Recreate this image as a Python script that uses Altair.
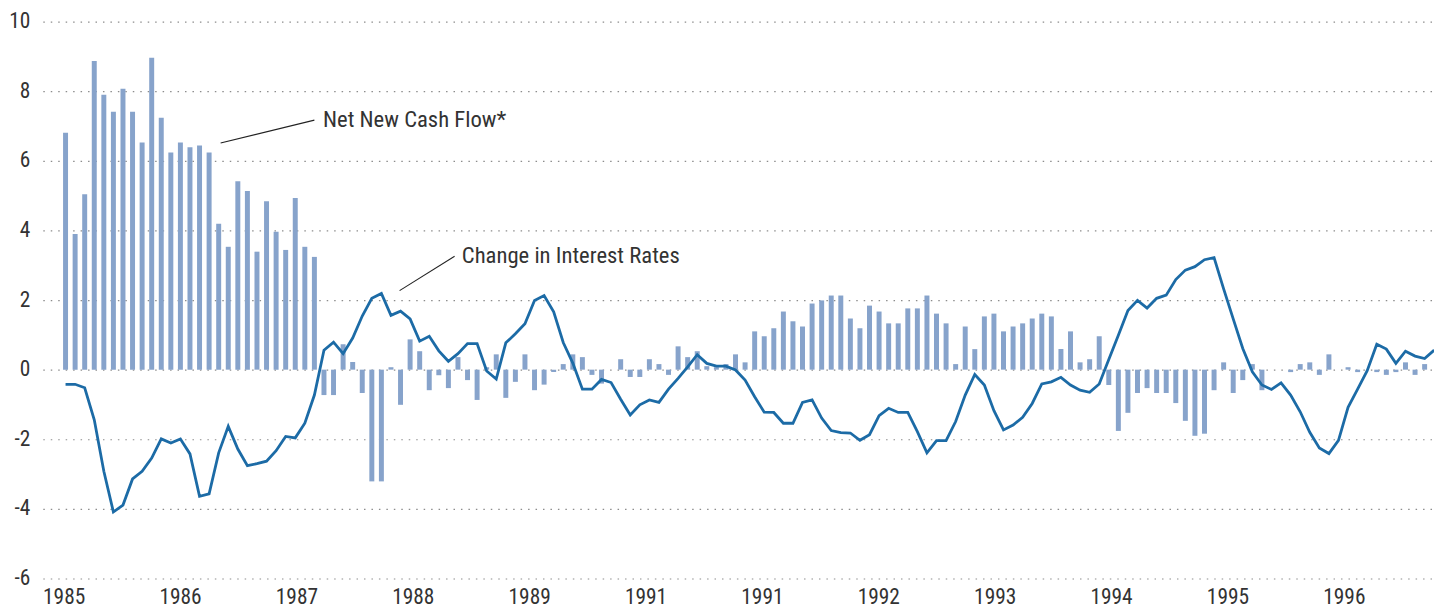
import json
import altair as alt
import pandas as pd

# Monthly net new cash flow (bars), Jan 1985 onward
cash_flow = [
    6.81, 3.90, 5.04, 8.87, 7.90, 7.41, 8.07, 7.41, 6.53, 8.96, 7.24, 6.24,
    6.53, 6.39, 6.44, 6.24, 4.19, 3.53, 5.41, 5.13, 3.39, 4.84, 3.96, 3.44,
    4.93, 3.53, 3.24, -0.73, -0.73, 0.73, 0.22, -0.67, -3.21, -3.21, 0.07, -1.01,
    0.87, 0.53, -0.59, -0.16, -0.53, 0.36, -0.30, -0.87, 0.07, 0.44, -0.81, -0.35,
    0.44, -0.59, -0.43, -0.07, 0.16, 0.44, 0.36, -0.15, -0.40, 0.0, 0.30, -0.21,
    -0.21, 0.30, 0.16, -0.15, 0.67, 0.36, 0.53, 0.10, 0.07, 0.16, 0.44, 0.21,
    1.10, 0.96, 1.19, 1.67, 1.39, 1.24, 1.90, 1.99, 2.13, 2.13, 1.47, 1.19,
    1.84, 1.67, 1.33, 1.33, 1.76, 1.76, 2.13, 1.61, 1.33, 0.16, 1.24, 0.59,
    1.53, 1.61, 1.10, 1.24, 1.33, 1.47, 1.61, 1.53, 0.59, 1.10, 0.21, 0.30,
    0.96, -0.44, -1.76, -1.24, -0.67, -0.53, -0.67, -0.67, -0.96, -1.47, -1.90, -1.84,
    -0.59, 0.21, -0.67, -0.30, 0.16, -0.59, 0.0, 0.0, -0.07, 0.16, 0.21, -0.15,
    0.44, 0.0, 0.07, -0.07, 0.0, -0.07, -0.15, -0.07, 0.21, -0.15, 0.16,
]

# Monthly change in interest rates (line)
rate_change = [
    -0.42, -0.42, -0.52, -1.44, -2.92, -4.09, -3.89, -3.14, -2.92, -2.54, -1.99, -2.11,
    -1.99, -2.42, -3.64, -3.57, -2.39, -1.63, -2.28, -2.76, -2.70, -2.63, -2.33, -1.92,
    -1.96, -1.54, -0.73, 0.56, 0.79, 0.46, 0.91, 1.54, 2.05, 2.19, 1.56, 1.68,
    1.46, 0.82, 0.96, 0.54, 0.24, 0.46, 0.75, 0.75, -0.04, -0.27, 0.77, 1.03,
    1.32, 1.99, 2.13, 1.66, 0.78, 0.19, -0.56, -0.56, -0.28, -0.37, -0.85, -1.30,
    -1.01, -0.87, -0.94, -0.56, -0.25, 0.08, 0.43, 0.18, 0.10, 0.10, -0.01, -0.30,
    -0.78, -1.22, -1.23, -1.54, -1.54, -0.94, -0.87, -1.39, -1.75, -1.81, -1.82, -2.03,
    -1.87, -1.32, -1.11, -1.23, -1.23, -1.78, -2.39, -2.04, -2.04, -1.49, -0.73, -0.14,
    -0.44, -1.18, -1.73, -1.59, -1.37, -0.97, -0.41, -0.35, -0.22, -0.44, -0.59, -0.65,
    -0.41, 0.29, 0.99, 1.70, 1.99, 1.77, 2.05, 2.14, 2.59, 2.86, 2.96, 3.16,
    3.22, 2.32, 1.46, 0.61, -0.06, -0.44, -0.57, -0.38, -0.73, -1.21, -1.80, -2.25,
    -2.41, -2.03, -1.08, -0.56, -0.03, 0.73, 0.59, 0.18, 0.53, 0.39, 0.32, 0.56,
]

year_labels = ["1985", "1986", "1987", "1988", "1989", "1991",
               "1991", "1992", "1993", "1994", "1995", "1996"]
y_ticks = [-6, -4, -2, 0, 2, 4, 6, 8, 10]

# annotation texts and their leader lines (data coordinates)
ann_text = ["Net New Cash Flow*", "Change in Interest Rates"]
ann_x = [26.9, 41.4]
ann_y = [7.17, 3.26]
lead_x1 = [16.2, 34.9]
lead_y1 = [6.51, 2.27]
lead_x2 = [26.0, 40.65]
lead_y2 = [7.17, 3.26]

FONT = "Liberation Sans Narrow, Roboto Condensed, DejaVu Sans Condensed, sans-serif"
TEXT_COLOR = "#333333"

bars_df = pd.DataFrame({"m": list(range(len(cash_flow))), "v": cash_flow})
line_df = pd.DataFrame({"m": list(range(len(rate_change))), "v": rate_change})
ann_df = pd.DataFrame({"x": ann_x, "y": ann_y, "t": ann_text})
lead_df = pd.DataFrame({"x": lead_x1, "y": lead_y1, "x2": lead_x2, "y2": lead_y2})

tick_start, tick_step = -0.2, 12.16
x_ticks = [round(tick_start + tick_step * k, 3) for k in range(len(year_labels))]
label_expr = f"{json.dumps(year_labels)}[round((datum.value - ({tick_start})) / {tick_step})]"

x_scale = alt.Scale(domain=[-1.857, 142.46], nice=False, zero=False)
y_scale = alt.Scale(domain=[-6, 10], nice=False, zero=False)

x_axis = alt.Axis(
    values=x_ticks, labelExpr=label_expr, grid=False, domain=False, ticks=False,
    labelPadding=8, title=None, labelFlush=False, labelOverlap=False,
    labelFont=FONT, labelFontSize=21.5, labelColor=TEXT_COLOR,
)
y_axis = alt.Axis(
    values=y_ticks, labelExpr="datum.value + ''",
    grid=True, gridDash=[1.5, 6], gridColor="#8c8c8c", gridWidth=1.2,
    domain=False, ticks=False, labelPadding=13, title=None,
    labelFont=FONT, labelFontSize=21.5, labelColor=TEXT_COLOR,
)

bars = alt.Chart(bars_df).mark_bar(size=5, color="#87A3CB").encode(
    x=alt.X("m:Q", scale=x_scale, axis=x_axis),
    y=alt.Y("v:Q", scale=y_scale, axis=y_axis),
)

line = alt.Chart(line_df).mark_line(color="#1C6BA6", strokeWidth=2.8, clip=True).encode(
    x=alt.X("m:Q", scale=x_scale),
    y=alt.Y("v:Q", scale=y_scale),
)

leaders = alt.Chart(lead_df).mark_rule(color="#222222", strokeWidth=1.1).encode(
    x=alt.X("x:Q", scale=x_scale), y=alt.Y("y:Q", scale=y_scale),
    x2="x2:Q", y2="y2:Q",
)

labels = alt.Chart(ann_df).mark_text(
    align="left", baseline="middle", font=FONT, fontSize=22.8, color=TEXT_COLOR
).encode(
    x=alt.X("x:Q", scale=x_scale), y=alt.Y("y:Q", scale=y_scale), text="t:N",
)

chart = alt.layer(bars, line, leaders, labels).properties(
    width=1399, height=560,
    autosize=alt.AutoSizeParams(type="none"),
    padding={"left": 35, "top": 12, "right": 0, "bottom": 30},
    background="white",
).configure_view(stroke=None)

chart.save("out.html", embed_options={"renderer": "svg", "actions": False})
